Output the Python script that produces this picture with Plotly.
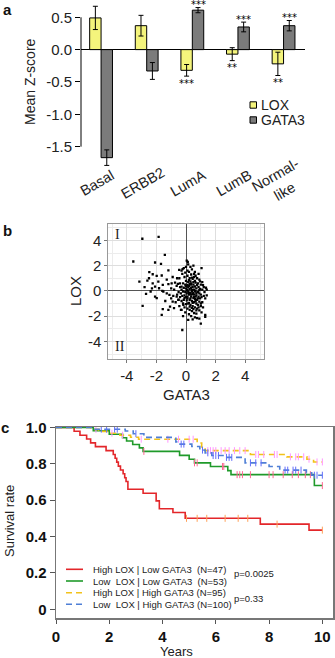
import numpy as np
import plotly.graph_objects as go

W, H = 335, 658
FONT = "Liberation Sans, Arial, sans-serif"


def px(x):
    return x / W


def py(y):
    return 1 - y / H


# ---------------- Panel a data ----------------
subtypes = ["Basal", "ERBB2", "LumA", "LumB", "Normal-like"]
subtype_labels = ["Basal", "ERBB2", "LumA", "LumB", "Normal-<br>like"]
lox_mean = [0.49, 0.37, -0.32, -0.07, -0.22]
lox_err = [0.18, 0.16, 0.09, 0.10, 0.18]
gata3_mean = [-1.67, -0.33, 0.61, 0.35, 0.37]
gata3_err = [0.12, 0.13, 0.04, 0.075, 0.08]
lox_sig = ["", "", "***", "**", "**"]
gata3_sig = ["", "", "***", "***", "***"]
a_ticks = [0.5, 0.0, -0.5, -1.0, -1.5]
a_ticktext = ["0.5", "0.0", "-0.5", "-1.0", "-1.5"]

# ---------------- Panel b data (GATA3, LOX) ----------------
scatter_outer = [
    (-2.95, 4.13), (-1.85, 4.28), (-3.56, 2.33), (-1.43, 2.86), (-2.09, 2.25), (-1.69, 2.14),
    (-2.48, 1.48), (-2.25, 1.32), (-1.98, 1.19), (-1.64, 1.22), (-1.19, 1.62), (-0.46, 1.67),
    (-0.23, 1.72), (-3.15, 0.74), (-2.61, 0.82), (-2.25, 0.6), (-1.87, 0.74), (-1.57, 0.48),
    (-2.09, 0.34), (-1.82, 0.21), (-1.53, -0.05), (-1.19, 0.53), (-0.97, 0.6), (-0.74, 0.66),
    (-0.63, 0.4), (-0.41, 0.6), (-0.3, 0.34), (-2.39, -0.05), (-2.7, -0.24), (-2.09, -0.45),
    (-1.98, -0.58), (-1.12, -0.32), (-0.86, -0.4), (-0.63, -0.45), (-0.52, -0.71), (-0.9, -0.85),
    (-1.08, -1.24), (-2.93, -1.19), (-0.81, -1.37), (-1.57, -1.45), (-1.64, -1.9), (-1.19, -1.5),
    (-0.34, -1.5), (-0.18, -1.11), (-0.25, -3.1), (-2.5, 1.0), (-1.3, 0.9), (-1.0, 0.2),
    (-0.8, 0.1), (-1.4, -0.8), (-2.3, 0.2), (-0.7, -0.9), (-1.0, -0.6), (-0.6, 1.0),
    (-0.9, 1.1), (-1.6, 0.0), (-1.3, -0.2), (-2.8, 0.3),
]
scatter_core = [
    (0.05, 2.4), (0.12, 2.3), (0.0, 1.9), (-0.15, 1.8), (0.4, 1.7), (0.6, 1.5), (1.05, 1.8),
    (0.2, 1.5), (0.35, 1.3), (0.1, 1.2), (-0.3, 1.6), (0.55, 1.1), (0.75, 1.0), (0.9, 0.9),
    (1.1, 0.7), (0.25, 1.0), (0.45, 0.95), (-0.1, 1.1), (0.0, 0.8), (0.15, 0.7), (0.3, 0.75),
    (0.5, 0.7), (0.65, 0.65), (0.8, 0.6), (1.0, 0.5), (1.2, 0.3), (1.35, 0.25), (1.4, 0.1),
    (-0.2, 0.6), (-0.05, 0.5), (0.1, 0.45), (0.2, 0.4), (0.35, 0.5), (0.45, 0.3), (0.6, 0.35),
    (0.7, 0.2), (0.85, 0.3), (0.95, 0.15), (1.1, 0.1), (1.25, -0.1), (1.4, -0.35), (1.2, -0.4),
    (-0.4, 0.3), (-0.3, 0.1), (-0.15, 0.25), (0.0, 0.2), (0.1, 0.1), (0.25, 0.15), (0.4, 0.05),
    (0.55, 0.1), (0.65, -0.05), (0.8, -0.1), (0.9, -0.2), (1.0, -0.3), (1.05, -0.5), (-0.5, -0.1),
    (-0.35, -0.2), (-0.2, -0.05), (-0.05, -0.1), (0.05, -0.2), (0.15, -0.05), (0.3, -0.15),
    (0.45, -0.25), (0.55, -0.3), (0.7, -0.35), (0.85, -0.45), (0.95, -0.6), (-0.4, -0.5),
    (-0.25, -0.4), (-0.1, -0.35), (0.0, -0.5), (0.1, -0.45), (0.2, -0.3), (0.35, -0.45),
    (0.5, -0.55), (0.6, -0.65), (0.75, -0.7), (0.9, -0.85), (1.1, -0.9), (-0.3, -0.8),
    (-0.15, -0.7), (0.05, -0.75), (0.25, -0.7), (0.4, -0.8), (0.55, -0.9), (0.7, -1.0),
    (0.8, -1.1), (1.0, -1.2), (-0.2, -1.0), (0.0, -1.05), (0.15, -1.0), (0.3, -1.1),
    (0.45, -1.2), (0.6, -1.3), (0.75, -1.4), (0.9, -1.55), (1.15, -1.3), (-0.1, -1.3),
    (0.1, -1.4), (0.25, -1.5), (0.4, -1.6), (0.55, -1.75), (0.7, -1.8), (1.05, -1.7),
    (1.3, -1.9), (1.3, -2.05), (-0.05, -1.7), (0.2, -1.85), (0.35, -2.0), (0.6, -2.1),
    (0.75, -2.15), (0.9, -2.2), (0.45, -2.25), (1.0, -2.6), (0.15, -2.3), (0.7, -1.55),
    (0.5, -1.45), (0.3, -0.6), (0.65, -0.45), (0.15, 0.3), (0.35, 0.25), (0.5, 0.5),
    (0.75, 0.45), (0.2, 0.85), (0.4, 1.05), (0.65, 1.2), (0.85, 1.35), (0.1, 1.6), (0.3, 1.9),
    (0.5, 2.0), (-0.25, 1.35), (-0.45, 1.0), (-0.55, 0.55), (-0.6, -0.3), (-0.5, -0.7),
    (-0.45, -1.2), (-0.3, -1.5), (-0.2, -2.0), (0.95, 0.75), (1.15, 0.45), (1.3, -0.6),
    (0.05, 0.05), (0.2, -0.15), (0.4, -0.05), (0.6, 0.0), (0.25, 0.55), (0.7, -0.2), (0.9, 0.05),
    (0.5, -0.15), (0.35, -0.3), (0.1, -0.6), (0.55, -0.5), (0.8, -0.6), (0.2, -0.95),
    (0.45, -0.95), (0.65, -0.8), (0.85, -1.3), (0.35, 0.6), (0.6, 0.8), (0.0, 0.4), (-0.1, -0.55),
    (1.0, -1.0), (0.4, -1.35), (0.25, -1.25), (0.55, 1.35), (0.15, 2.1), (-0.05, 1.45),
]
b_ticks = [-4, -2, 0, 2, 4]
b_ticktext = ["-4", "-2", "0", "2", "4"]

# ---------------- Panel c data (Kaplan-Meier) ----------------
km_names = [
    "High LOX | Low GATA3  (N=47)",
    "Low  LOX | Low GATA3  (N=53)",
    "High LOX | High GATA3 (N=95)",
    "Low  LOX | High GATA3 (N=100)",
]
red_t = [0, 0.68, 0.9, 1.15, 1.3, 1.48, 1.88, 2.15, 2.22, 2.28, 2.34, 2.42, 2.52, 2.58, 2.63, 2.7, 3.27, 3.76, 3.88, 4.39, 4.85, 7.67, 9.5, 10.0]
red_s = [1.0, 0.979, 0.957, 0.936, 0.915, 0.894, 0.872, 0.851, 0.830, 0.809, 0.787, 0.766, 0.745, 0.723, 0.702, 0.66, 0.638, 0.596, 0.553, 0.532, 0.50, 0.468, 0.435, 0.435]
red_c = [4.9, 5.3, 5.66, 6.35, 6.84, 7.2, 8.3, 10.0]
green_t = [0, 1.4, 2.0, 2.5, 2.65, 2.88, 3.13, 3.27, 4.64, 5.0, 5.2, 5.8, 6.45, 6.57, 9.7, 10.0]
green_s = [1.0, 0.981, 0.962, 0.943, 0.925, 0.906, 0.887, 0.868, 0.846, 0.825, 0.805, 0.785, 0.762, 0.74, 0.68, 0.68]
green_c = [3.3, 5.2, 5.3, 6.25, 6.3, 6.8, 6.9, 7.0, 7.3, 8.0, 8.15, 8.53, 8.87, 9.1, 9.36, 9.55, 10.0]
yellow_t = [0, 1.3, 1.6, 2.0, 2.4, 2.8, 3.1, 5.3, 5.47, 5.6, 7.3, 8.67, 9.42, 9.67, 10.0]
yellow_s = [1.0, 0.989, 0.978, 0.968, 0.957, 0.946, 0.935, 0.914, 0.893, 0.872, 0.851, 0.838, 0.825, 0.81, 0.81]
yellow_c = [1.5, 2.1, 2.5, 3.2, 4.2, 4.6, 5.0, 5.15, 5.7, 5.8, 5.9, 6.0, 6.2, 6.35, 6.5, 6.7, 6.9, 7.1, 7.5, 7.6, 7.8, 8.2, 8.3, 8.8, 9.0, 9.1, 9.3, 9.5, 9.8, 10.0]
blue_t = [0, 1.4, 2.6, 2.9, 3.3, 4.5, 4.6, 5.1, 5.4, 5.6, 5.85, 6.3, 7.1, 8.0, 8.4, 9.4, 9.6, 10.0]
blue_s = [1.0, 0.99, 0.98, 0.965, 0.945, 0.92, 0.908, 0.895, 0.875, 0.86, 0.845, 0.835, 0.805, 0.785, 0.765, 0.75, 0.737, 0.737]
blue_c = [1.7, 1.9, 2.2, 2.3, 3.0, 4.7, 4.8, 5.5, 5.7, 5.9, 6.0, 6.1, 6.4, 6.5, 6.6, 7.3, 7.5, 7.7, 8.6, 8.7, 8.9, 9.0, 9.2, 9.7, 9.8, 10.0]
p_values = ["p=0.0025", "p=0.33"]
c_yticks = [0, 0.2, 0.4, 0.6, 0.8, 1.0]
c_yticktext = ["0", "0.2", "0.4", "0.6", "0.8", "1.0"]
c_xticks = [0, 2, 4, 6, 8, 10]

km_colors = ["#e3262a", "#1f9a2a", "#f2c21b", "#4f7fd6"]
km_dash = ["solid", "solid", "6px,4px", "6px,4px"]

fig = go.Figure()

# ---- Panel a bars ----
fig.add_trace(go.Bar(
    x=subtypes, y=lox_mean, name="LOX", xaxis="x", yaxis="y",
    marker=dict(color="#f4f47c", line=dict(color="black", width=1)),
    error_y=dict(type="data", array=lox_err, color="black", thickness=1, width=2.5),
    showlegend=False,
))
fig.add_trace(go.Bar(
    x=subtypes, y=gata3_mean, name="GATA3", xaxis="x", yaxis="y",
    marker=dict(color="#7b7b7b", line=dict(color="black", width=1)),
    error_y=dict(type="data", array=gata3_err, color="black", thickness=1, width=2.5),
    showlegend=False,
))

# ---- Panel b scatter ----
pts = scatter_outer + scatter_core
fig.add_trace(go.Scatter(
    x=[p[0] for p in pts], y=[p[1] for p in pts], mode="markers",
    xaxis="x2", yaxis="y2", showlegend=False,
    marker=dict(symbol="square", size=2.3, color="black", line=dict(width=0)),
))

# ---- Panel c KM curves ----
groups = [
    (red_t, red_s, red_c), (green_t, green_s, green_c),
    (yellow_t, yellow_s, yellow_c), (blue_t, blue_s, blue_c),
]
for (t, s, c), col, dash, name in zip(groups, km_colors, km_dash, km_names):
    fig.add_trace(go.Scatter(
        x=t, y=s, mode="lines", line=dict(color=col, width=1.6, dash=dash, shape="hv"),
        xaxis="x3", yaxis="y3", showlegend=False, name=name,
    ))
    idx = np.searchsorted(np.array(t), np.array(c), side="right") - 1
    cy = [s[i] for i in idx]
    fig.add_trace(go.Scatter(
        x=c, y=cy, mode="markers", xaxis="x3", yaxis="y3", showlegend=False,
        marker=dict(symbol="line-ns-open", size=5, line=dict(color=col, width=1)),
    ))

# ---------------- Layout ----------------
fig.update_layout(
    width=W, height=H, margin=dict(l=0, r=0, t=0, b=0, autoexpand=False),
    paper_bgcolor="white", plot_bgcolor="white",
    font=dict(family=FONT, color="#222"),
    barmode="group", bargap=0.5, bargroupgap=0,
    xaxis=dict(domain=[px(81), px(305)], range=[-0.44, 4.47], anchor="y",
               showticklabels=False, ticks="", showgrid=False, showline=False, zeroline=False),
    yaxis=dict(domain=[py(169.3), py(1.1)], range=[-1.85, 0.75], anchor="x",
               tickvals=a_ticks, ticktext=a_ticktext, ticks="outside", ticklen=5,
               tickcolor="black", tickfont=dict(size=15, color="#222"),
               showgrid=False, showline=False, zeroline=True, zerolinecolor="black",
               zerolinewidth=1),
    xaxis2=dict(domain=[px(108.3), px(264)], range=[-5.25, 5.27], anchor="y2",
                tickvals=b_ticks, ticktext=b_ticktext, ticks="outside", ticklen=3,
                tickcolor="#777", tickfont=dict(size=15, color="#222"),
                showgrid=True, gridcolor="#dedede", gridwidth=1,
                minor=dict(dtick=1, showgrid=True, gridcolor="#ececec"),
                showline=True, mirror=True, linecolor="#999", linewidth=1,
                zeroline=True, zerolinecolor="#555", zerolinewidth=1),
    yaxis2=dict(domain=[py(359.3), py(224)], range=[-5.42, 5.3], anchor="x2",
                tickvals=b_ticks, ticktext=b_ticktext, ticks="outside", ticklen=3,
                tickcolor="#777", tickfont=dict(size=15, color="#222"),
                showgrid=True, gridcolor="#dedede", gridwidth=1,
                minor=dict(dtick=1, showgrid=True, gridcolor="#ececec"),
                showline=True, mirror=True, linecolor="#999", linewidth=1,
                zeroline=True, zerolinecolor="#555", zerolinewidth=1),
    xaxis3=dict(domain=[px(56), px(333)], range=[0, 10.4], anchor="y3",
                tickvals=c_xticks, ticks="outside", ticklen=4, tickcolor="#555",
                tickfont=dict(size=15, color="#111", weight="bold"),
                showgrid=False, zeroline=False,
                showline=True, mirror=True, linecolor="#777", linewidth=1.5),
    yaxis3=dict(domain=[py(618), py(427)], range=[-0.048, 1.002], anchor="x3",
                tickvals=c_yticks, ticktext=c_yticktext, ticks="outside", ticklen=5,
                tickcolor="#555", tickfont=dict(size=15, color="#111", weight="bold"),
                showgrid=False, zeroline=False,
                showline=True, mirror=True, linecolor="#777", linewidth=1.5),
)
for ax in ["xaxis", "yaxis", "xaxis2", "yaxis2", "xaxis3", "yaxis3"]:
    fig.layout[ax].automargin = False

shapes = []
annotations = []


def ann(text, x, y, size, angle=0, xanchor="center", yanchor="middle", **kw):
    font = dict(size=size, color=kw.pop("color", "#222"), family=kw.pop("family", FONT))
    if "weight" in kw:
        font["weight"] = kw.pop("weight")
    d = dict(text=text, x=px(x), y=py(y), xref="paper", yref="paper", showarrow=False,
             xanchor=xanchor, yanchor=yanchor, textangle=angle, font=font)
    d.update(kw)
    annotations.append(d)


# Panel a: y axis line only between -1.5 and 0.5
shapes.append(dict(type="line", xref="paper", yref="y", x0=px(81), x1=px(81),
                   y0=min(a_ticks), y1=max(a_ticks), line=dict(color="black", width=1)))

# Panel a: significance stars
star_font = dict(size=10, color="#000000", family="DejaVu Sans, " + FONT)
for cat, m, e, sg in zip(subtypes, lox_mean, lox_err, lox_sig):
    if sg:
        annotations.append(dict(x=cat, y=m - e, xref="x", yref="y", text=sg, showarrow=False,
                                xanchor="center", yanchor="middle",
                                xshift=-5.7, yshift=-7, font=star_font))
for cat, m, e, sg in zip(subtypes, gata3_mean, gata3_err, gata3_sig):
    if sg:
        annotations.append(dict(x=cat, y=m + e, xref="x", yref="y", text=sg, showarrow=False,
                                xanchor="center", yanchor="middle",
                                xshift=5.7, yshift=3, font=star_font))

# Panel a: category labels (rotated)
for cat, lab in zip(subtypes, subtype_labels):
    annotations.append(dict(x=cat, y=py(183), xref="x", yref="paper", text=lab,
                            showarrow=False, textangle=-30, xshift=-4,
                            xanchor="center", yanchor="middle",
                            font=dict(size=14.5, color="#222", family=FONT)))

# Panel a: y title
ann("Mean Z-score", 30, 82, 14, angle=-90)

# Panel a legend
for name, col, yc in [("LOX", "#f4f47c", 105), ("GATA3", "#7b7b7b", 120)]:
    shapes.append(dict(type="rect", xref="paper", yref="paper",
                       x0=px(250), x1=px(256.5), y0=py(yc + 3.2), y1=py(yc - 3.2),
                       fillcolor=col, line=dict(color="black", width=1)))
    ann(name, 258.5, yc, 14, xanchor="left")

# Panel b: titles and roman numerals
ann("LOX", 75, 291, 15, angle=-90)
ann("GATA3", 186, 394, 15)
ann("I", 118, 234, 14, family="Liberation Serif, DejaVu Serif, serif")
ann("II", 120, 346, 14, family="Liberation Serif, DejaVu Serif, serif")

# Panel c: titles
ann("Years", 176, 651.5, 13)
ann("Survival rate", 9, 521, 13, angle=-90,
    family="Liberation Sans Narrow, Arial Narrow, " + FONT)

# Panel c legend
leg_rows = [569.3, 581, 592.7, 604.3]
for name, col, dash, yr in zip(km_names, km_colors, km_dash, leg_rows):
    shapes.append(dict(type="line", xref="paper", yref="paper", x0=px(66), x1=px(83),
                       y0=py(yr), y1=py(yr), line=dict(color=col, width=1.6, dash=dash)))
    ann(name.replace(" ", "\u00a0"), 91, yr, 9.5, xanchor="left")
ann(p_values[0], 232, 573.5, 9.5, xanchor="left")
ann(p_values[1], 232, 598, 9.5, xanchor="left")

# Panel letters
for lab, xx, yy in [("a", 7, 9), ("b", 7, 230), ("c", 5, 427)]:
    ann(lab, xx, yy, 15, color="#111", weight="bold")

fig.update_layout(shapes=shapes, annotations=annotations)

fig.write_html(
    "out.html",
    config={"displayModeBar": False, "staticPlot": True},
    post_script="document.body.style.margin='0';document.body.style.padding='0';"
                "document.documentElement.style.overflow='hidden';",
)
